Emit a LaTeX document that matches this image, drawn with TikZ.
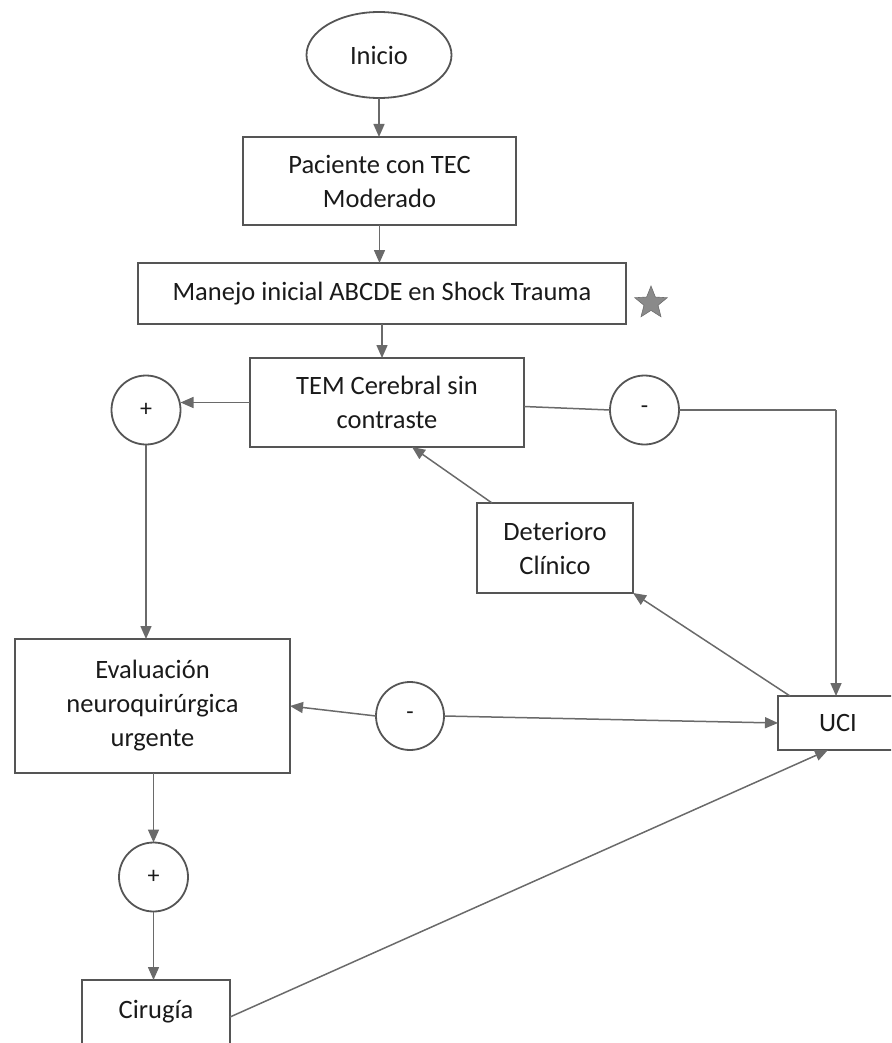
\documentclass[tikz,border=0pt]{standalone}
\usepackage{fontspec}
\setmainfont{Carlito}
\usetikzlibrary{arrows.meta,shapes.geometric}
\definecolor{edge}{HTML}{555555}
\definecolor{wire}{HTML}{6A6A6A}
\definecolor{ink}{HTML}{1A1A1A}
\definecolor{starfill}{HTML}{8A8A8A}
\begin{document}
\begin{tikzpicture}[x=1pt,y=-1pt,
  box/.style={draw=edge,line width=1.8pt,rectangle,inner sep=0pt,outer sep=0pt,
    align=center,text=ink,font=\fontsize{26.5}{34}\selectfont},
  term/.style={box,ellipse},
  sign/.style={draw=edge,circle,line width=1.8pt,inner sep=0pt,outer sep=0pt,
    minimum size=69pt,text=ink,font=\fontsize{24}{28}\selectfont},
  flow/.style={draw=wire,line width=1.5pt,
    -{Triangle[length=13pt,width=11pt,fill=wire]}},
  link/.style={draw=wire,line width=1.5pt}]
\useasboundingbox (0,0) rectangle (891,1043);
\clip (0,0) rectangle (891,1043);

% main column
\node[term, minimum width=145pt, minimum height=86pt] (inicio) at (379,55) {Inicio};
\node[box, minimum width=273pt, minimum height=88pt] (paciente) at (379.5,181)
  {Paciente con TEC\\Moderado};
\node[box, minimum width=488pt, minimum height=61pt] (manejo) at (382,293.5)
  {Manejo inicial ABCDE en Shock Trauma};
\node[star, star points=5, star point ratio=2.3, fill=starfill, draw=starfill!80!black,
  line width=0.6pt, minimum size=34pt, inner sep=0pt] (estrella) at (651,303) {};
\node[box, minimum width=274pt, minimum height=89pt] (tem) at (387,402.5)
  {TEM Cerebral sin\\contraste};

% result branches of the scan
\node[sign] (pos) at (146,410) {+};
\node[sign] (neg) at (644.5,410) {-};
\coordinate (esquina) at (836,410);

\node[box, minimum width=156pt, minimum height=90pt] (deterioro) at (555,548)
  {Deterioro\\Clínico};
\node[box, minimum width=275pt, minimum height=134pt] (evaluacion) at (152.5,706)
  {Evaluación\\neuroquirúrgica\\urgente};
\node[sign, minimum size=68pt] (negb) at (410,716) {-};
\node[box, minimum width=120pt, minimum height=54pt] (uci) at (838,723) {UCI};
\node[sign] (posb) at (153.5,877) {+};
\node[box, minimum width=148pt, minimum height=70pt, text depth=12pt] (cirugia) at (156,1015) {Cirugía};

% connectors
\draw[flow] (inicio.south) -- (inicio.south |- paciente.north);
\draw[flow] (paciente.south) -- (paciente.south |- manejo.north);
\draw[flow] (manejo.south) -- (manejo.south |- tem.north);

\draw[flow] (tem.west) -- (tem.west -| pos.east);
\draw[link] ([yshift=-4pt]tem.east) -- (neg.west);
\draw[link] (neg.east) -- (esquina);
\draw[flow] (esquina) -- (esquina |- uci.north);

\draw[flow] (pos.south) -- (pos.south |- evaluacion.north);
\draw[flow] ([xshift=12pt]uci.north west) -- (deterioro.south east);
\draw[flow] ([xshift=15pt]deterioro.north west) -- ([xshift=25pt]tem.south);

\draw[flow] (negb.west) -- (evaluacion.east);
\draw[flow] (negb.east) -- (uci.west);

\draw[flow] (evaluacion.south -| posb.north) -- (posb.north);
\draw[flow] (posb.south) -- (posb.south |- cirugia.north);
\draw[flow] ([yshift=-2pt]cirugia.east) -- ([xshift=-10pt]uci.south);
\end{tikzpicture}
\end{document}
